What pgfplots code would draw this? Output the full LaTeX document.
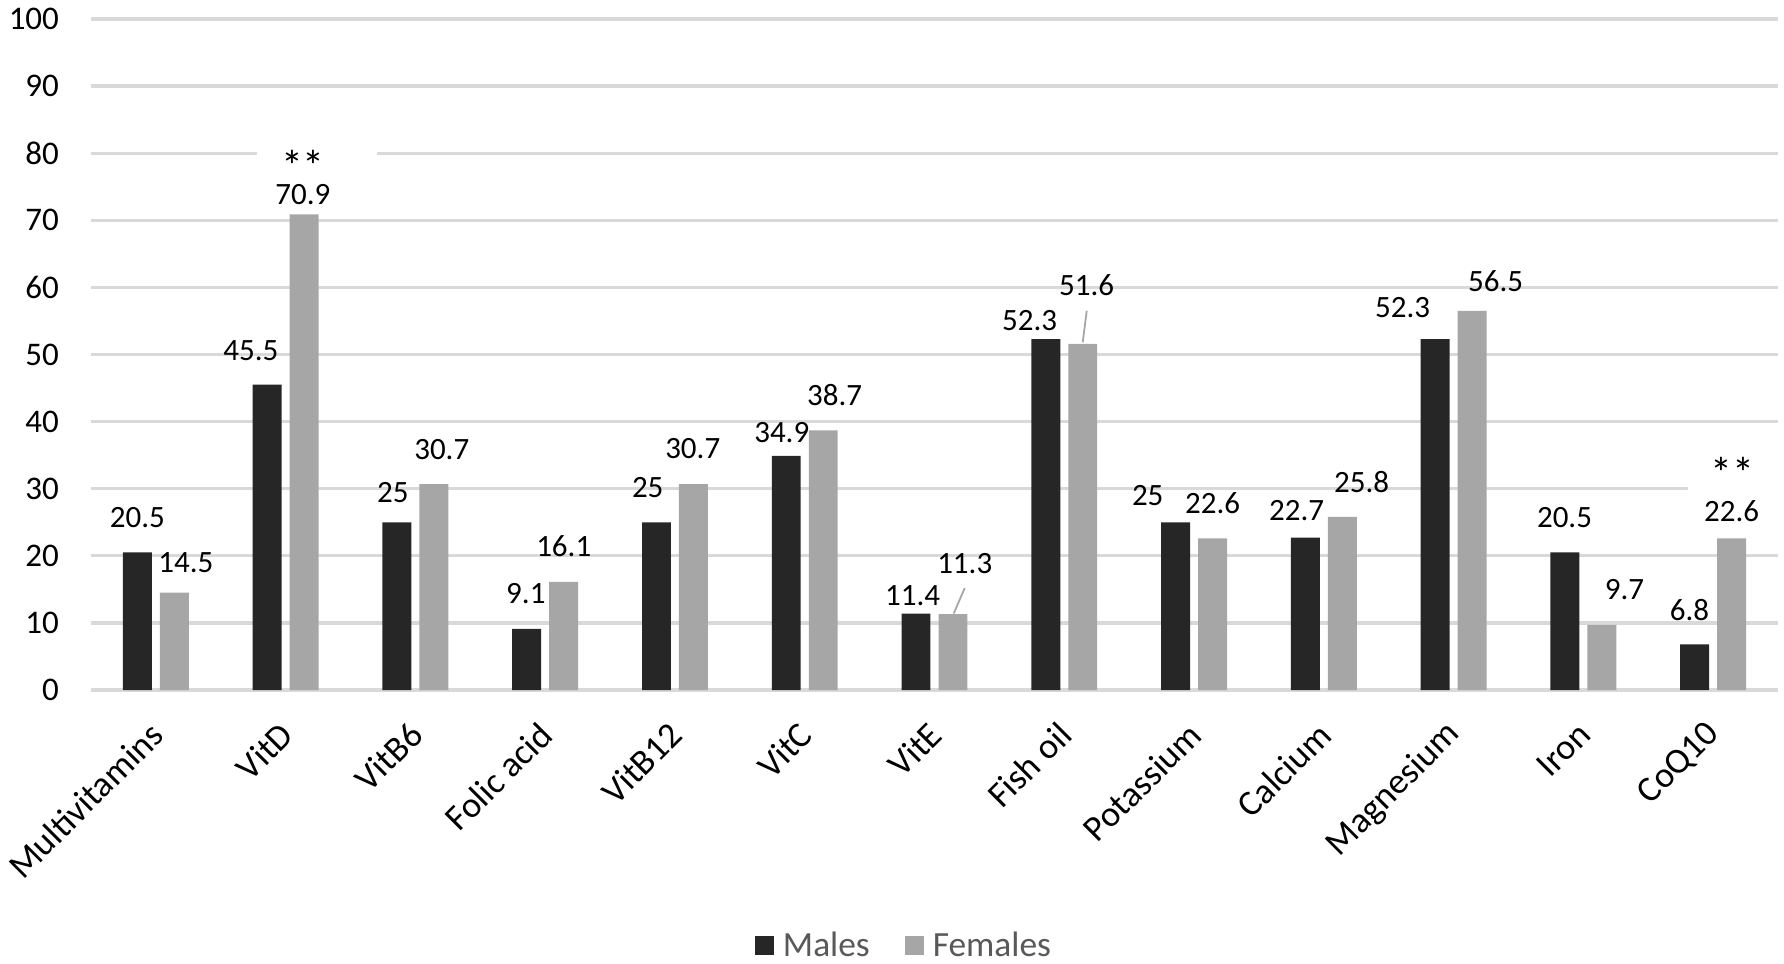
\documentclass[border=0pt]{standalone}
\usepackage{fontspec}
\setmainfont{Carlito}
\usepackage{pgfplots}
\pgfplotsset{compat=1.18}
\definecolor{males}{HTML}{262626}
\definecolor{females}{HTML}{A6A6A6}
\definecolor{gridgray}{HTML}{D9D9D9}
\definecolor{legendtext}{HTML}{595959}
\newcommand\lbl{\fontsize{15.5}{17}\selectfont}
\newcommand\sigfont{\fontsize{22}{24}\selectfont}

\begin{document}
\begin{tikzpicture}
\begin{axis}[name=ax,
    scale only axis,
    width=843.5pt, height=335.5pt,
    xmin=-0.5, xmax=12.5,
    ymin=0, ymax=100,
    ybar,
    axis line style={draw=none},
    major tick length=0pt,
    xtick pos=bottom, ytick pos=left,
    ytick={0,10,...,100},
    ymajorgrids,
    grid style={gridgray, line width=1.65pt},
    xtick={0,...,12},
    xticklabels={Multivitamins,VitD,VitB6,Folic acid,VitB12,VitC,VitE,Fish oil,Potassium,Calcium,Magnesium,Iron,CoQ10},
    /pgf/number format/assume math mode=true,
    yticklabel style={font=\fontsize{16.5}{18}\selectfont, xshift=-12.5pt},
    xticklabel style={font=\fontsize{18}{20}\selectfont, yshift=-17pt, xshift=3pt, rotate=45, anchor=east},
    clip=false,
    legend style={at={(0.4825,-0.3815)}, anchor=center, draw=none,
        font=\fontsize{17.7}{20}\selectfont, text=legendtext,
        legend columns=2,
        /tikz/every even column/.append style={column sep=15.5pt}},
    legend image code/.code={\fill[#1,draw=none] (0pt,-4.75pt) rectangle (9.5pt,4.75pt); \path (12pt,0pt);},
]
\addplot[fill=males, draw=none, bar width=0.223, bar shift=-0.1425] coordinates {
    (0,20.5) (1,45.5) (2,25) (3,9.1) (4,25) (5,34.9) (6,11.4)
    (7,52.3) (8,25) (9,22.7) (10,52.3) (11,20.5) (12,6.8)};
\addlegendentry{Males}
\addplot[fill=females, draw=none, bar width=0.223, bar shift=0.1425] coordinates {
    (0,14.5) (1,70.9) (2,30.7) (3,16.1) (4,30.7) (5,38.7) (6,11.3)
    (7,51.6) (8,22.6) (9,25.8) (10,56.5) (11,9.7) (12,22.6)};
\addlegendentry{Females}

% white boxes behind the starred labels
\fill[white] (axis cs:0.778,72.2) rectangle (axis cs:1.703,81);
\fill[white] (axis cs:11.803,24) rectangle (axis cs:12.55,34);

% leader lines
\draw[females, line width=0.9pt] (axis cs:6.233,15.2) -- (axis cs:6.148,11.4);
\draw[females, line width=0.9pt] (axis cs:7.173,56.5) -- (axis cs:7.142,51.8);

% data labels
\begin{scope}[every node/.style={font=\lbl, inner sep=0pt}]
\node at (axis cs:-0.142,25.7) {20.5};
\node at (axis cs:0.231,19.0) {14.5};
\node at (axis cs:0.732,50.6) {45.5};
\node at (axis cs:1.133,73.8) {70.9};
\node[font=\sigfont] at (axis cs:1.133,78.1) {**};
\node at (axis cs:1.826,29.5) {25};
\node at (axis cs:2.203,35.9) {30.7};
\node at (axis cs:2.851,14.3) {9.1};
\node at (axis cs:3.143,21.4) {16.1};
\node at (axis cs:3.790,30.1) {25};
\node at (axis cs:4.137,36.0) {30.7};
\node at (axis cs:4.823,38.4) {34.9};
\node at (axis cs:5.231,43.9) {38.7};
\node at (axis cs:5.832,14.1) {11.4};
\node at (axis cs:6.233,18.8) {11.3};
\node at (axis cs:6.733,55.1) {52.3};
\node at (axis cs:7.173,60.4) {51.6};
\node at (axis cs:7.643,29.0) {25};
\node at (axis cs:8.143,27.8) {22.6};
\node at (axis cs:8.791,26.8) {22.7};
\node at (axis cs:9.291,31.0) {25.8};
\node at (axis cs:9.607,57.0) {52.3};
\node at (axis cs:10.324,61.0) {56.5};
\node at (axis cs:10.855,25.7) {20.5};
\node at (axis cs:11.317,15.0) {9.7};
\node at (axis cs:11.818,11.9) {6.8};
\node at (axis cs:12.142,26.6) {22.6};
\node[font=\sigfont] at (axis cs:12.149,32.3) {**};
\end{scope}
\end{axis}
\pgfresetboundingbox
\path[use as bounding box] ([xshift=-45.5pt,yshift=9.5pt]ax.north west) rectangle ([xshift=3pt,yshift=-137pt]ax.south east);
\end{tikzpicture}
\end{document}
